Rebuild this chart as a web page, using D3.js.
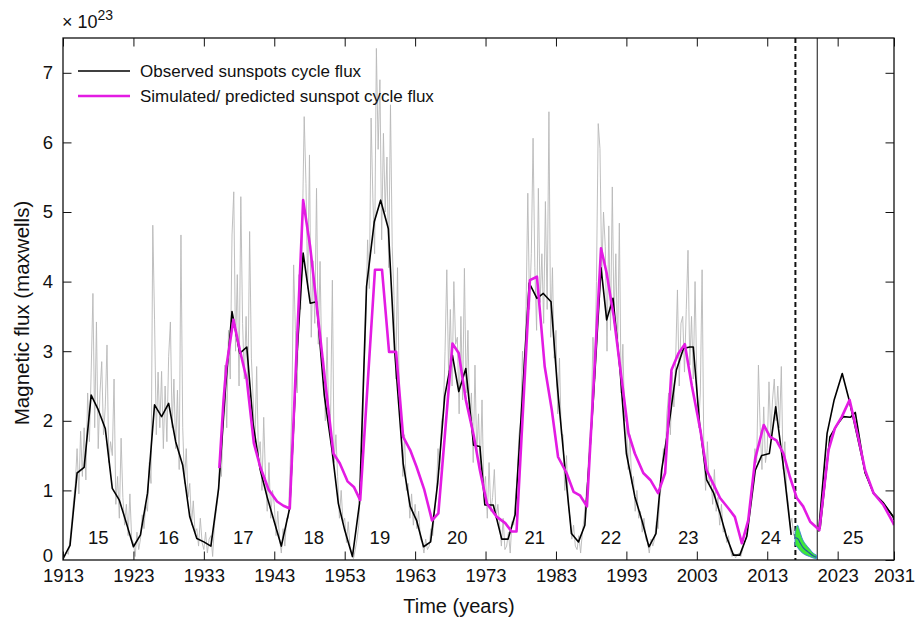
<!DOCTYPE html>
<html><head><meta charset="utf-8">
<script src="https://cdn.jsdelivr.net/npm/d3@7"></script>
<style>body{margin:0;background:#fff} svg{display:block} text{font-family:"Liberation Sans",Arial,Helvetica,sans-serif;fill:#111}</style>
</head><body><svg id="c" width="916" height="618"></svg>
<script>
// ---------- data ----------
const xTicks = [1913,1923,1933,1943,1953,1963,1973,1983,1993,2003,2013,2023,2031];
const yTicks = [0,1,2,3,4,5,6,7];

// observed smoothed cycle flux (x10^23 Mx)
const obsYears = [1913,1914,1915,1916,1917,1918,1919,1920,1921,1922,1923,1924,1925,1926,1927,1928,1929,1930,1931,1932,1933,1934,1935.1,1936.1,1937,1938.1,1939.1,1940,1941,1942,1943,1944,1945.2,1946.2,1947.1,1948.1,1949,1950.1,1951.2,1952.1,1953,1954.1,1955.1,1956.1,1957.2,1958.1,1959.2,1960.1,1961.3,1962.3,1963.2,1964.2,1965.2,1966.2,1967.2,1968.3,1969.2,1970.2,1971.3,1972.2,1972.9,1974.1,1975.3,1976.2,1977.2,1978.2,1979.2,1980.3,1981.2,1982.3,1983.2,1984.3,1985.2,1986.2,1987.1,1988.3,1989.4,1990.2,1991.1,1992.1,1993,1994.2,1995.2,1996.2,1997.2,1998,1999.2,2000.1,2001.1,2002,2002.5,2003.4,2004.4,2005.4,2006.3,2007.2,2008.2,2009.1,2010.1,2011.3,2012.2,2013.3,2014.2,2015.3,2016.4];
const obsValues = [0.02,0.21,1.25,1.33,2.37,2.16,1.89,1.03,0.86,0.53,0.19,0.36,0.96,2.23,2.06,2.25,1.70,1.36,0.62,0.31,0.26,0.20,1.03,2.50,3.57,2.97,3.06,1.95,1.30,0.90,0.55,0.20,0.75,2.90,4.41,3.69,3.71,2.37,1.58,0.81,0.43,0.05,0.81,3.93,4.86,5.17,4.76,3.00,1.39,0.77,0.57,0.19,0.26,1.10,2.35,2.94,2.42,2.75,1.65,1.63,0.79,0.79,0.30,0.30,0.65,2.30,3.98,3.76,3.83,3.71,2.49,1.29,0.38,0.26,0.50,2.30,4.20,3.45,3.76,2.73,1.53,0.91,0.57,0.19,0.38,1.29,2.06,2.73,3.04,3.06,3.06,1.95,1.15,0.96,0.67,0.34,0.07,0.07,0.34,1.29,1.50,1.53,2.20,1.34,0.36];

// observed/forecast branches for cycle 25
const c25aYears = [2020.3,2021.5,2022.5,2023.65,2024.5,2025.3,2026.9,2028.1,2029.5,2030.9,2031];
const c25aValues = [0.41,1.82,2.30,2.68,2.35,2.00,1.27,0.96,0.81,0.62,0.58];
const c25bYears = [2020.5,2021.9,2022.9,2023.8,2024.8,2025.5,2026.9,2028.1,2029.5,2030.9,2031];
const c25bValues = [0.45,1.77,1.94,2.06,2.05,2.12,1.25,0.96,0.82,0.62,0.58];

// simulated / predicted cycle flux
const simYears = [1935.2,1935.8,1936.2,1937.2,1938.1,1939.1,1940.1,1941,1942.2,1943.4,1944.3,1945.2,1947.1,1948.1,1949.1,1950.1,1951.4,1952.3,1953.4,1954.3,1955.2,1957.3,1958.3,1959.3,1960.3,1961.3,1962.3,1963.2,1964.3,1965.4,1966.3,1968.3,1969.2,1970.2,1971.3,1972.2,1973.2,1974.6,1975.8,1976.7,1977.4,1979.3,1980.3,1981.4,1982.4,1983.3,1984.5,1985.5,1986.4,1987.4,1989.4,1990.2,1991.2,1992.1,1993.3,1994.2,1995.4,1996.4,1997.5,1998.5,1999.4,2000.4,2001.3,2002.3,2003.5,2004.4,2005.4,2006.3,2007.5,2008.4,2009.4,2010.3,2011.3,2012.5,2013.4,2014.3,2015.3,2016.2,2017.2,2018.1,2019.1,2020.4,2021.7,2022.6,2023.6,2024.7,2025.9,2026.9,2028.1,2029.5,2030.9,2031];
const simValues = [1.32,2.30,2.78,3.45,3.02,2.59,1.68,1.34,1.01,0.84,0.78,0.74,5.17,4.50,3.59,2.68,1.53,1.39,1.13,1.05,0.86,4.17,4.17,2.99,2.99,1.77,1.58,1.34,1.01,0.57,0.67,3.11,2.97,2.30,1.80,1.29,0.81,0.62,0.53,0.41,0.41,4.02,4.07,2.78,2.16,1.48,1.25,0.98,0.93,0.77,4.48,4.12,3.50,2.78,1.82,1.53,1.25,1.15,0.96,1.25,2.73,2.97,3.10,2.50,1.87,1.29,1.08,0.89,0.74,0.62,0.24,0.57,1.46,1.94,1.77,1.72,1.53,1.20,0.89,0.77,0.55,0.43,1.58,1.89,2.06,2.30,1.77,1.29,0.96,0.79,0.53,0.50];

// raw (quarterly) observed flux, grey trace
const grayStart = 1913, grayStep = 0.25;
const grayValues = [
0.00,0.05,0.12,0.08, 0.30,0.55,0.85,1.10, 1.60,0.95,1.85,1.20, 1.90,1.15,2.40,1.70,
2.70,3.83,1.90,3.42, 1.60,2.40,2.85,1.80, 2.20,3.09,1.40,1.70, 1.50,2.60,0.80,1.20,
0.60,1.75,0.90,0.50, 0.80,0.35,0.95,0.30, 0.25,0.05,0.40,0.15, 0.30,0.65,0.45,0.80,
0.70,1.40,1.10,4.81, 3.45,1.80,2.70,1.90, 2.71,1.60,2.50,1.70, 2.92,3.42,1.90,2.60,
1.60,2.44,1.30,4.67, 1.90,1.10,1.60,0.90, 1.10,0.50,0.85,0.40, 0.45,0.20,0.60,0.25,
0.15,0.40,0.10,0.30, 0.35,0.05,0.50,0.70, 0.90,1.50,1.20,2.10, 2.80,1.90,3.30,2.60,
4.67,5.29,3.00,4.10, 2.50,5.22,3.40,2.60, 3.50,2.40,4.72,2.90, 2.30,1.60,2.78,1.50,
1.70,1.00,2.05,1.20, 0.70,1.40,0.60,1.00, 0.80,0.35,0.70,0.30, 0.10,0.45,0.20,0.60,
0.60,1.30,2.20,4.24, 3.30,2.40,4.10,3.60, 4.80,6.37,5.41,3.90, 5.82,3.20,4.30,3.40,
5.34,3.10,4.29,2.80, 2.90,2.00,3.20,1.90, 2.10,4.02,1.40,1.80, 1.20,0.60,1.00,0.55,
0.60,0.25,0.55,0.20, 0.10,0.02,0.15,0.30, 0.50,1.20,1.60,2.80, 3.40,4.60,3.90,6.35,
5.20,4.40,7.35,5.90, 6.90,4.60,6.13,5.00, 5.79,4.20,6.54,4.50, 3.80,2.60,4.20,2.40,
2.00,1.20,1.80,1.00, 1.10,0.60,0.95,0.50, 0.80,0.45,0.70,0.30, 0.25,0.10,0.30,0.15,
0.20,0.45,0.35,0.70, 0.90,1.60,1.30,2.00, 2.10,3.00,4.17,2.70, 3.60,2.50,4.00,3.10,
3.20,2.10,3.50,2.30, 4.19,2.40,3.30,2.00, 2.40,1.40,2.80,1.50, 2.10,1.30,2.30,1.00,
1.20,0.60,1.40,0.70, 0.90,1.30,0.60,0.80, 0.50,0.20,0.60,0.15, 0.20,0.40,0.10,0.55,
0.50,0.90,1.20,1.80, 2.00,3.00,2.40,3.60, 5.27,3.60,4.40,6.06, 4.20,3.30,5.34,3.70,
4.40,3.40,5.15,3.60, 6.44,3.20,4.20,2.90, 3.30,2.10,2.90,1.80, 1.80,1.00,1.50,0.80,
0.60,0.30,0.50,0.20, 0.15,0.35,0.10,0.40, 0.60,0.90,1.20,1.70, 2.00,3.20,2.60,4.00,
6.27,5.91,4.10,5.00, 4.50,3.00,4.80,3.30, 5.36,3.40,4.40,3.00, 4.84,2.40,3.10,2.00,
2.00,1.30,1.80,1.10, 1.20,0.70,1.00,0.60, 0.70,0.40,0.60,0.30, 0.25,0.10,0.30,0.20,
0.30,0.55,0.45,0.90, 1.10,1.60,1.40,2.10, 2.40,1.80,2.70,2.20, 2.90,3.88,2.50,3.40,
3.50,2.70,3.60,4.45, 2.80,3.50,2.60,4.00, 2.60,1.90,2.40,4.17, 1.50,1.00,1.70,1.10,
1.20,0.80,1.30,0.70, 0.90,0.50,0.80,0.40, 0.45,0.25,0.35,0.15, 0.05,0.10,0.03,0.08,
0.10,0.05,0.15,0.25, 0.30,0.55,0.70,1.00, 1.10,1.60,1.40,2.80, 1.90,1.30,2.20,1.40,
1.60,2.56,1.80,2.30, 2.60,2.00,2.50,1.90, 2.78,1.30,1.70,1.00, 0.80,0.50,0.60,0.35
];

// forecast uncertainty band 2017-2020
const bandYears = [2016.95,2017.3,2017.6,2018.0,2018.5,2019.0,2019.5,2020.0];
const bandUpper = [0.40,0.50,0.42,0.30,0.22,0.16,0.10,0.07];
const bandLower = [0.22,0.18,0.14,0.10,0.07,0.05,0.03,0.02];
const bandMid   = [0.32,0.31,0.26,0.19,0.14,0.10,0.06,0.04];

const cycleLabels = ["15","16","17","18","19","20","21","22","23","24","25"];
const cycleYears  = [1918.0,1928.0,1938.6,1948.6,1958.0,1969.0,1980.0,1990.8,2001.8,2013.5,2025.2];
const cycleLabelY = 0.33;
const dashedYear = 2017.0, solidYear = 2020.1;

// ---------- chart ----------
const svg = d3.select("#c");
const L=63,R=894,T=38,B=560;
const x = d3.scaleLinear().domain([1913,2031]).range([L,R]);
const y = d3.scaleLinear().domain([0,7.5]).range([B,T]);
const magenta = "#e31be3";

svg.append("clipPath").attr("id","pc").append("rect")
  .attr("x",L).attr("y",T).attr("width",R-L).attr("height",B-T);
const g = svg.append("g").attr("clip-path","url(#pc)");

const grayData = grayValues.map((v,i)=>[grayStart+i*grayStep, v]);
const line = d3.line().x(d=>x(d[0])).y(d=>y(d[1]));
g.append("path").datum(grayData).attr("d",line)
  .attr("fill","none").attr("stroke","#b8b8b8").attr("stroke-width",0.9);

// vertical markers
g.append("line").attr("x1",x(dashedYear)).attr("x2",x(dashedYear)).attr("y1",T).attr("y2",B)
  .attr("stroke","#111").attr("stroke-width",2).attr("stroke-dasharray","5,3");
g.append("line").attr("x1",x(solidYear)).attr("x2",x(solidYear)).attr("y1",T).attr("y2",B)
  .attr("stroke","#111").attr("stroke-width",1);

// band
const band = bandYears.map((yr,i)=>({x:yr,u:bandUpper[i],l:bandLower[i],m:bandMid[i]}));
g.append("path").datum(band)
  .attr("d",d3.area().x(d=>x(d.x)).y0(d=>y(d.l)).y1(d=>y(d.u)).curve(d3.curveMonotoneX))
  .attr("fill","#3ee83a").attr("stroke","#3a7fd6").attr("stroke-width",0.9);
g.append("path").datum(band)
  .attr("d",d3.line().x(d=>x(d.x)).y(d=>y(d.m)).curve(d3.curveMonotoneX))
  .attr("fill","none").attr("stroke","#1f4fa8").attr("stroke-width",1.1);

const obs = obsYears.map((yr,i)=>[yr,obsValues[i]]);
const c25a = c25aYears.map((yr,i)=>[yr,c25aValues[i]]);
const c25b = c25bYears.map((yr,i)=>[yr,c25bValues[i]]);
const sim = simYears.map((yr,i)=>[yr,simValues[i]]);

[obs,c25a,c25b].forEach(s=>{
  g.append("path").datum(s).attr("d",line).attr("fill","none")
   .attr("stroke","#000").attr("stroke-width",1.6).attr("stroke-linejoin","round");
});
g.append("path").datum(sim).attr("d",line).attr("fill","none")
  .attr("stroke",magenta).attr("stroke-width",2.6).attr("stroke-linejoin","round");

// cycle numbers
svg.append("g").selectAll("text").data(cycleLabels).join("text")
  .attr("x",(d,i)=>x(cycleYears[i])).attr("y",y(cycleLabelY))
  .attr("text-anchor","middle").attr("dominant-baseline","central")
  .attr("font-size",18.5).text(d=>d);

// axes
const fmt = d3.format("d");
svg.append("g").attr("transform",`translate(0,${B})`)
  .call(d3.axisBottom(x).tickValues(xTicks).tickFormat(fmt).tickSizeInner(-8.5).tickSizeOuter(0).tickPadding(9));
svg.append("g").attr("transform",`translate(0,${T})`)
  .call(d3.axisTop(x).tickValues(xTicks).tickFormat("").tickSizeInner(-8.5).tickSizeOuter(0));
const ay = svg.append("g").attr("transform",`translate(${L},0)`)
  .call(d3.axisLeft(y).tickValues(yTicks).tickFormat(fmt).tickSizeInner(-8.5).tickSizeOuter(0).tickPadding(10));
svg.append("g").attr("transform",`translate(${R},0)`)
  .call(d3.axisRight(y).tickValues(yTicks).tickFormat("").tickSizeInner(-8.5).tickSizeOuter(0));
svg.selectAll(".domain").remove();
svg.selectAll(".tick line").attr("stroke","#111").attr("stroke-width",1);
svg.selectAll(".tick text").attr("font-size",18.5).attr("fill","#111")
  .attr("font-family","'Liberation Sans',Arial,sans-serif");
const zeroTick = ay.selectAll(".tick").filter(d=>d===0);
zeroTick.select("line").remove();
zeroTick.select("text").attr("dy","0.1em");
svg.append("rect").attr("x",L).attr("y",T).attr("width",R-L).attr("height",B-T)
  .attr("fill","none").attr("stroke","#111").attr("stroke-width",1.3);

// exponent
const ex = svg.append("text").attr("x",62).attr("y",28).attr("font-size",18);
ex.append("tspan").text("× 10");
ex.append("tspan").attr("font-size",14).attr("dy",-8).text("23");

// titles
svg.append("text").attr("x",459).attr("y",613).attr("text-anchor","middle").attr("font-size",20).text("Time (years)");
svg.append("text").attr("transform","translate(29,313) rotate(-90)").attr("text-anchor","middle")
  .attr("font-size",20.5).text("Magnetic flux (maxwells)");

// legend
const leg = [{t:"Observed sunspots cycle flux",c:"#000",w:1.6},{t:"Simulated/ predicted sunspot cycle flux",c:magenta,w:2.6}];
leg.forEach((d,i)=>{
  const yy = 71 + i*25;
  svg.append("line").attr("x1",78).attr("x2",130).attr("y1",yy).attr("y2",yy)
    .attr("stroke",d.c).attr("stroke-width",d.w);
  svg.append("text").attr("x",140).attr("y",yy).attr("dominant-baseline","central")
    .attr("font-size",17).text(d.t);
});
</script></body></html>
